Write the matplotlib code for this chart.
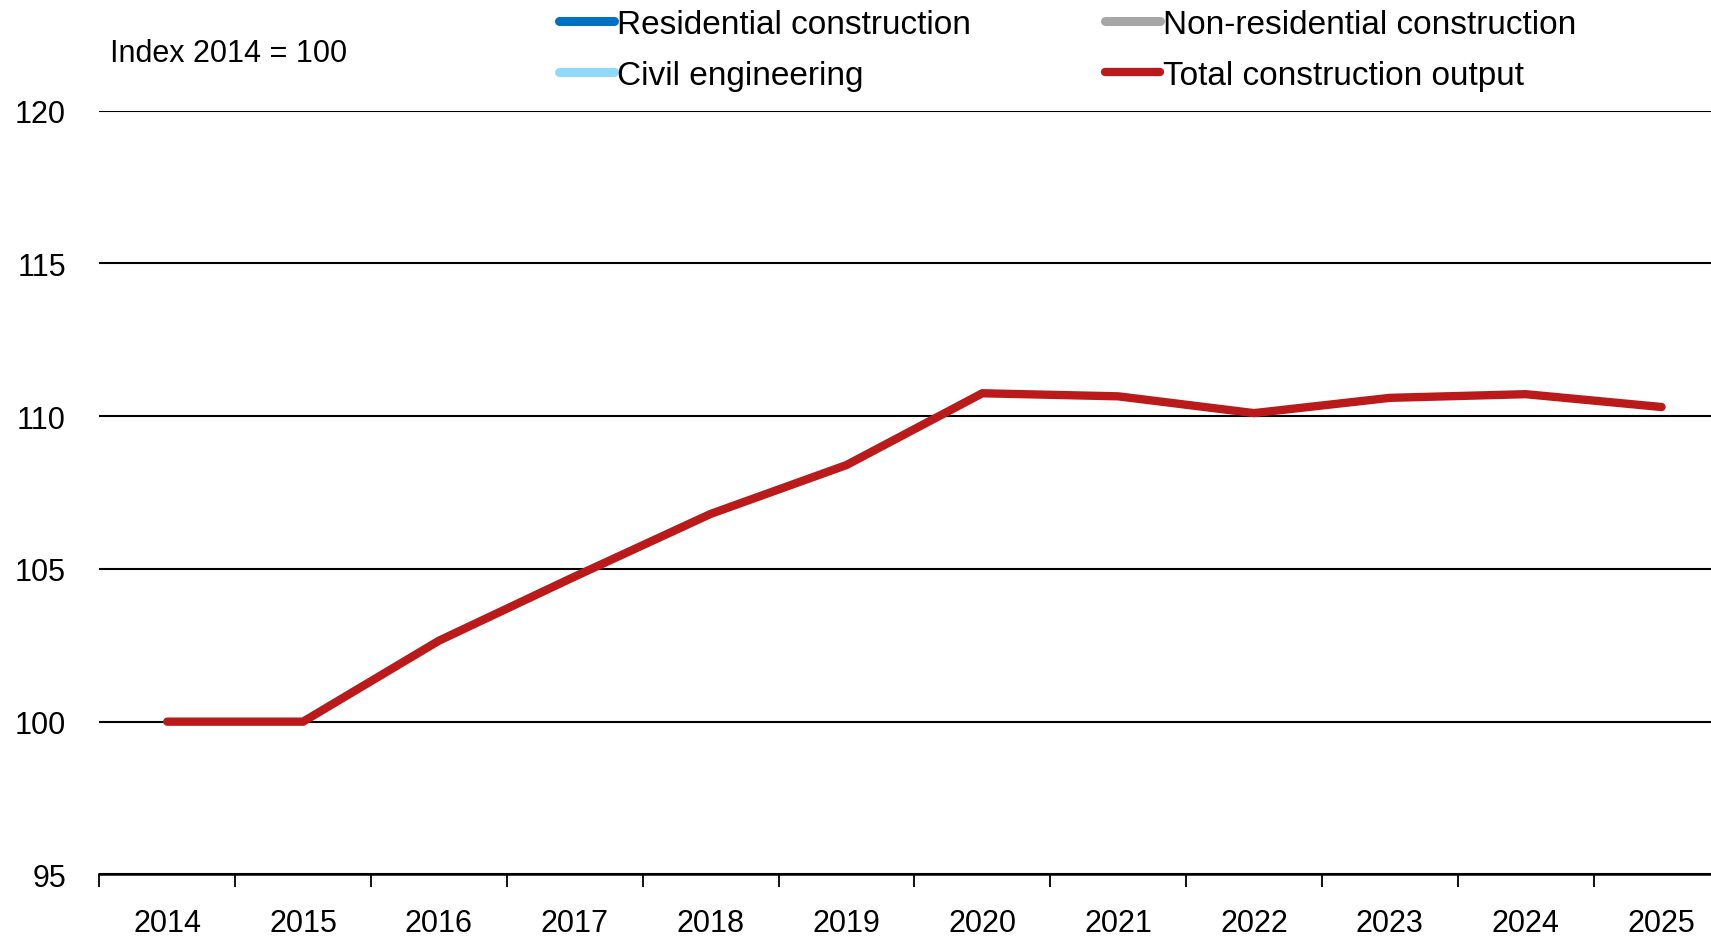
import matplotlib
matplotlib.use('Agg')
import matplotlib.pyplot as plt

# Data (index, 2014 = 100)
years = ['2014', '2015', '2016', '2017', '2018', '2019', '2020', '2021', '2022', '2023', '2024', '2025']
total_output = [100.0, 100.0, 102.65, 104.75, 106.8, 108.4, 110.75, 110.65, 110.1, 110.6, 110.72, 110.3]
# the sector series appear in the legend only, no line is drawn for them
residential = []
non_residential = []
civil_engineering = []

plt.rcParams['font.family'] = ['Liberation Sans', 'DejaVu Sans']

W, H = 1711, 937
fig = plt.figure(figsize=(W / 100, H / 100), dpi=100)
left = 99.3 / W
bottom = 1 - 875.4 / H
top = 1 - 111.7 / H
ax = fig.add_axes([left, bottom, 1 - left, top - bottom])

x = list(range(len(years)))
ax.plot(residential, residential, color='#0070C0', lw=6.5, solid_capstyle='round',
        label='Residential construction')
ax.plot(civil_engineering, civil_engineering, color='#8FD9FB', lw=6.5, solid_capstyle='round',
        label='Civil engineering')
ax.plot(non_residential, non_residential, color='#A6A6A6', lw=6.5, solid_capstyle='round',
        label='Non-residential construction')
ax.plot(x, total_output, color='#BA1A1A', lw=6, solid_capstyle='round',
        solid_joinstyle='miter', label='Total construction output', zorder=3)

ax.set_ylim(95, 120)
ax.set_yticks([95, 100, 105, 110, 115, 120])
ax.set_xlim(-0.5, 11.364)
ax.set_xticks(x)
ax.set_xticklabels(years)
ax.set_xticks([i - 0.5 for i in range(len(years))], minor=True)

ax.grid(axis='y', color='black', lw=1.5)
ax.set_axisbelow(True)
for s in ['left', 'right', 'top']:
    ax.spines[s].set_visible(False)
ax.spines['bottom'].set_color('black')
ax.spines['bottom'].set_linewidth(1.8)

ax.tick_params(axis='y', length=0, pad=24, labelsize=22)
ax.tick_params(axis='x', which='major', length=0, pad=24, labelsize=22)
ax.tick_params(axis='x', which='minor', length=9, width=1.3, color='black')

fig.text(110 / W, 1 - 54 / H, 'Index 2014 = 100', fontsize=22, va='center', ha='left')

fig.legend(loc='upper left', bbox_to_anchor=(529 / W, 1.0213), ncol=2, frameon=False,
           fontsize=24, handlelength=1.65, handletextpad=0.1, columnspacing=4.0,
           labelspacing=0.59)

fig.savefig('out.png', dpi=100)
